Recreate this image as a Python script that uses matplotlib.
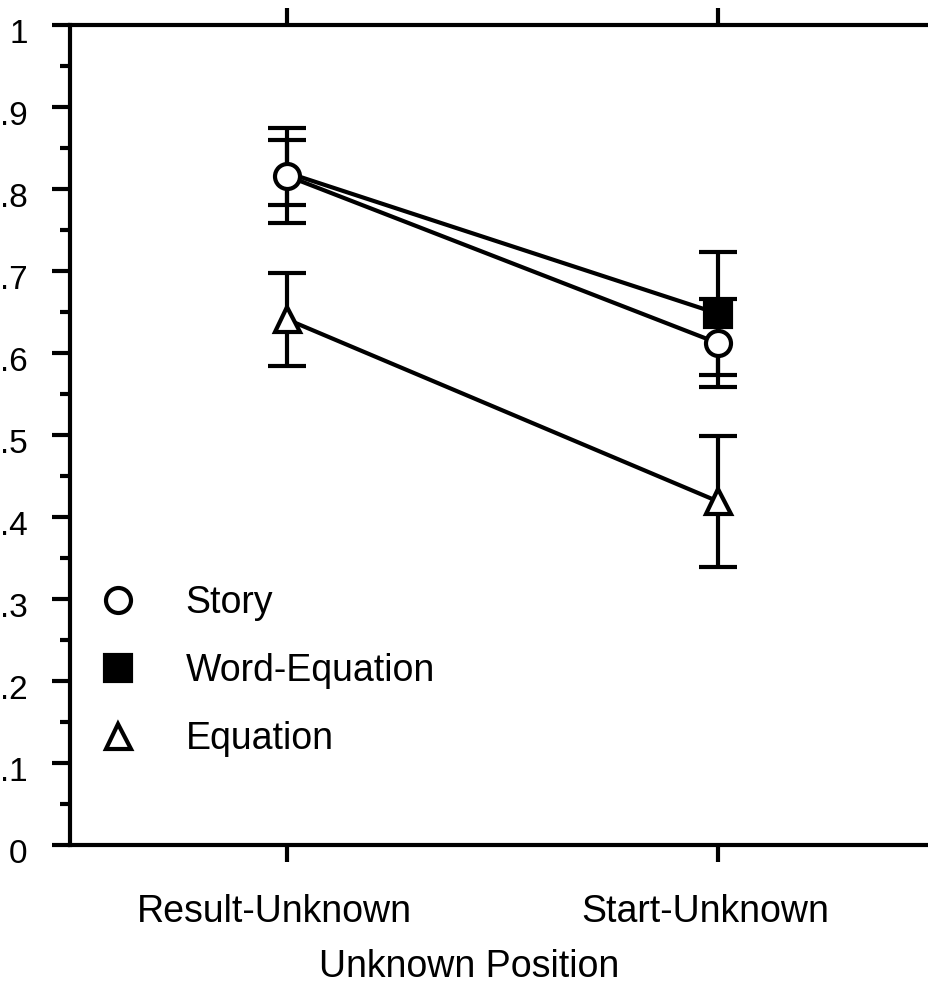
import numpy as np
import matplotlib
matplotlib.use('Agg')
import matplotlib.pyplot as plt
import matplotlib.transforms as mtransforms
from matplotlib.lines import Line2D
from matplotlib.ticker import MultipleLocator

plt.rcParams['font.family'] = ['Liberation Sans', 'DejaVu Sans']

# data
conditions = ['Result-Unknown', 'Start-Unknown']
story = [0.816, 0.612]
story_err = [0.058, 0.054]
word_eq = [0.820, 0.648]
word_eq_err = [0.040, 0.075]
equation = [0.641, 0.419]
equation_err = [0.057, 0.080]
ytick_vals = [0, .1, .2, .3, .4, .5, .6, .7, .8, .9, 1]
ytick_labels = ['0', '.1', '.2', '.3', '.4', '.5', '.6', '.7', '.8', '.9', '1']

lw = 3.0
fig = plt.figure(figsize=(9.29, 9.97), dpi=100)
ax = fig.add_axes([70/929, 152/997, 862/929, 820/997])

x = np.arange(len(conditions))

# error bars
for vals, errs in [(story, story_err), (word_eq, word_eq_err), (equation, equation_err)]:
    ax.errorbar(x, vals, yerr=errs, fmt='none', ecolor='black', elinewidth=lw,
                capsize=13.5, capthick=lw, zorder=2)

# lines + markers
ax.plot(x, word_eq, '-', color='black', lw=lw, marker='s', ms=19, mfc='black',
        mec='black', mew=lw, markevery=[1], zorder=3)
ax.plot(x, story, '-', color='black', lw=lw, marker='o', ms=18, mfc='white',
        mec='black', mew=lw, zorder=4)
ax.plot(x, equation, '-', color='black', lw=lw, marker='^', ms=18, mfc='white',
        mec='black', mew=lw, zorder=4)

ax.set_xlim(-0.5035, 1.4965)
ax.set_ylim(0, 1)

ax.set_yticks(ytick_vals)
ax.set_yticklabels(ytick_labels)
ax.yaxis.set_minor_locator(MultipleLocator(0.05))
ax.set_xticks(x)
ax.set_xticklabels(conditions)

ax.tick_params(axis='y', which='major', length=13, width=lw, pad=17.5,
               labelsize=24, direction='out', right=True)
ax.tick_params(axis='y', which='minor', length=7, width=lw, direction='out', right=True)
ax.tick_params(axis='x', length=12, width=lw, pad=23, labelsize=27,
               direction='out', top=True, bottom=True)
for s in ax.spines.values():
    s.set_linewidth(lw)

# small nudges to match the original label placement
xoff = mtransforms.ScaledTranslation(-13/100, 0, fig.dpi_scale_trans)
for lab in ax.get_xticklabels():
    lab.set_transform(lab.get_transform() + xoff)
yoff = mtransforms.ScaledTranslation(0, -6/100, fig.dpi_scale_trans)
for lab in ax.get_yticklabels():
    lab.set_transform(lab.get_transform() + yoff)

ax.set_xlabel('Unknown Position', fontsize=27)
ax.xaxis.set_label_coords((469 - 70) / 862, (845 - 977) / 820)
ax.xaxis.label.set_verticalalignment('baseline')

handles = [
    Line2D([], [], ls='none', marker='o', ms=18, mfc='white', mec='black', mew=lw),
    Line2D([], [], ls='none', marker='s', ms=19, mfc='black', mec='black', mew=lw),
    Line2D([], [], ls='none', marker='^', ms=18, mfc='white', mec='black', mew=lw),
]
ax.legend(handles, ['Story', 'Word-Equation', 'Equation'], fontsize=27,
          frameon=False, handlelength=1.0, handletextpad=1.3, labelspacing=0.85,
          borderpad=0, borderaxespad=0, loc='center left',
          bbox_to_anchor=(0.034, 0.212))

fig.savefig('out.png', dpi=100)
